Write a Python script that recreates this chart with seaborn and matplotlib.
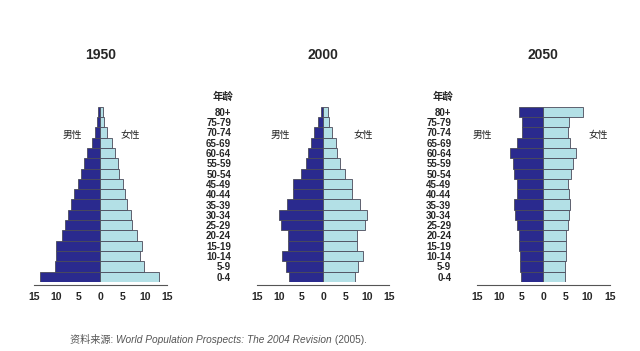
# Population pyramids 1950 / 2000 / 2050

import numpy as np
import pandas as pd
import matplotlib
matplotlib.use('Agg')
import matplotlib.pyplot as plt
import seaborn as sns

sns.set_style('white')
plt.rcParams['font.family'] = ['Liberation Sans', 'Noto Sans CJK SC', 'DejaVu Sans']

# Data (percent of population), age groups listed from oldest to youngest
ages = ['80+', '75-79', '70-74', '65-69', '60-64', '55-59', '50-54', '45-49', '40-44',
        '35-39', '30-34', '25-29', '20-24', '15-19', '10-14', '5-9', '0-4']
years = ['1950', '2000', '2050']

male_1950 = [0.5, 0.7, 1.2, 2.0, 3.0, 3.7, 4.4, 5.2, 6.0, 6.6, 7.3, 8.0, 8.7, 10.1, 10.1, 10.4, 13.8]
female_1950 = [0.5, 0.8, 1.5, 2.5, 3.2, 3.9, 4.2, 5.0, 5.6, 6.1, 6.8, 7.1, 8.2, 9.3, 9.0, 9.9, 13.3]

male_2000 = [0.6, 1.1, 2.0, 2.8, 3.5, 3.9, 5.0, 6.8, 6.8, 8.3, 9.9, 9.5, 8.0, 8.0, 9.3, 8.4, 7.7]
female_2000 = [1.1, 1.3, 2.0, 2.8, 3.1, 3.7, 4.9, 6.6, 6.6, 8.3, 9.9, 9.5, 7.7, 7.7, 8.9, 7.8, 7.3]

male_2050 = [5.5, 4.8, 4.8, 5.9, 7.5, 6.9, 6.6, 6.0, 6.0, 6.6, 6.4, 5.9, 5.5, 5.5, 5.3, 5.3, 5.1]
female_2050 = [8.9, 5.9, 5.5, 6.0, 7.3, 6.6, 6.2, 5.5, 5.7, 6.0, 5.9, 5.5, 5.1, 5.1, 5.1, 4.9, 4.8]

xticks = [-15, -10, -5, 0, 5, 10, 15]

male_color = '#2a2a8e'
female_color = '#b3e0e6'
edge_color = '#4a4a5a'

data = {
    '1950': (male_1950, female_1950),
    '2000': (male_2000, female_2000),
    '2050': (male_2050, female_2050),
}

fig = plt.figure(figsize=(6.4, 3.51), dpi=100)

lefts = [0.050, 0.398, 0.742]
width = 0.214
bottom, height = 0.197, 0.499

# (男性 x, 女性 x) in figure pixels for each panel
sex_label_x = [(72, 130), (280, 363), (482, 598)]

for i, year in enumerate(years):
    ax = fig.add_axes([lefts[i], bottom, width, height])
    male, female = data[year]
    df = pd.DataFrame({'age': ages * 2,
                       'value': list(-np.array(male)) + list(female),
                       'sex': ['m'] * len(ages) + ['f'] * len(ages)})
    sns.barplot(data=df[df.sex == 'm'], x='value', y='age', order=ages, orient='h',
                color=male_color, edgecolor=edge_color, linewidth=0.6, width=1.0,
                saturation=1, ax=ax)
    sns.barplot(data=df[df.sex == 'f'], x='value', y='age', order=ages, orient='h',
                color=female_color, edgecolor=edge_color, linewidth=0.6, width=1.0,
                saturation=1, ax=ax)

    for s in ['top', 'right', 'left']:
        ax.spines[s].set_visible(False)
    ax.spines['bottom'].set_position(('outward', 2))
    ax.spines['bottom'].set_bounds(-15, 15)
    ax.spines['bottom'].set_color('#555555')
    ax.spines['bottom'].set_linewidth(0.8)

    ax.set_xlim(-15.5, 15.5)
    ax.set_ylim(len(ages) - 0.5, -0.5)
    ax.set_xticks(xticks)
    ax.set_xticklabels([str(abs(t)) for t in xticks])
    ax.set_xlabel('')
    ax.set_ylabel('')
    ax.tick_params(axis='x', direction='out', length=3, width=0.8, color='#555555',
                   pad=2, labelsize=7.5)
    for lab in ax.get_xticklabels():
        lab.set_fontweight('bold')

    if i == 0:
        ax.set_yticks([])
    else:
        ax.tick_params(axis='y', length=0, pad=17, labelsize=7)
        for lab in ax.get_yticklabels():
            lab.set_fontweight('bold')
        ax.text(-0.23, 1.03, '年龄', transform=ax.transAxes, ha='center', va='bottom',
                fontsize=7.5, fontweight='bold')

    ax.set_title(year, fontsize=10, fontweight='bold', pad=34)

    mx, fx = sex_label_x[i]
    fig.text(mx / 640, 1 - 135 / 351, '男性', ha='center', va='center', fontsize=7, color='#222222')
    fig.text(fx / 640, 1 - 135 / 351, '女性', ha='center', va='center', fontsize=7, color='#222222')

# Source line with italic title
fig.canvas.draw()
renderer = fig.canvas.get_renderer()
x = 70 / 640
y = 1 - 340 / 351
parts = [('资料来源: ', 'normal'),
         ('World Population Prospects: The 2004 Revision', 'italic'),
         (' (2005).', 'normal')]
for txt, style in parts:
    t = fig.text(x, y, txt, ha='left', va='center', fontsize=7.3, style=style, color='#555555')
    bb = t.get_window_extent(renderer=renderer)
    x += bb.width / fig.bbox.width

fig.savefig('out.png', dpi=100)
